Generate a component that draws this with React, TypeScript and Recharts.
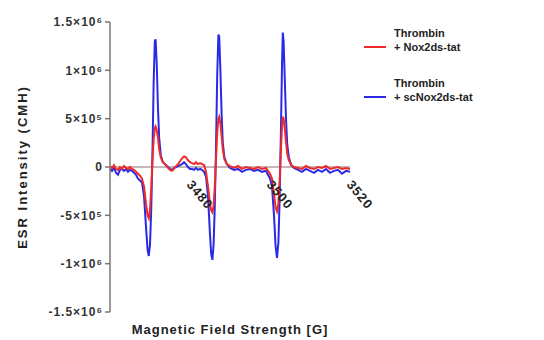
import { LineChart, Line, XAxis, YAxis, ReferenceLine } from 'recharts';

// magnetic field (G), sampled more densely around the three lines
const field = [
  3461, 3461.5, 3462, 3462.5, 3463, 3463.5, 3464, 3464.5, 3465, 3465.5, 3466, 3466.5, 3467, 3467.5, 3468, 3468.5,
  3469, 3469.5, 3470, 3470.4, 3470.7, 3471, 3471.3, 3471.6, 3471.9, 3472.2, 3472.4, 3472.7, 3473, 3473.3, 3473.7,
  3474.2, 3475, 3475.5, 3476, 3476.5, 3477, 3477.5, 3478, 3478.5, 3479, 3479.5, 3480, 3480.5, 3481, 3481.5, 3482,
  3482.5, 3483, 3483.5, 3484, 3484.5, 3485, 3485.5, 3486, 3486.3, 3486.6, 3486.9, 3487.2, 3487.5, 3487.8, 3488.1,
  3488.3, 3488.6, 3488.9, 3489.2, 3489.6, 3490.2, 3491, 3492, 3493, 3494, 3495, 3496, 3497, 3498, 3499, 3500,
  3500.5, 3501, 3501.5, 3502, 3502.4, 3502.75, 3503.1, 3503.4, 3503.7, 3504, 3504.2, 3504.4, 3504.7, 3505, 3505.3,
  3505.7, 3506.3, 3507, 3508, 3509, 3510, 3511, 3512, 3513, 3514, 3515, 3516, 3517, 3518, 3519, 3520, 3521,
];

const scNox2ds = [
  -0.02e6, -0.04e6, -0.01e6, -0.06e6, -0.08e6, -0.03e6, -0.02e6, -0.04e6, -0.02e6, -0.05e6, -0.03e6, -0.04e6, -0.06e6, -0.08e6, -0.12e6, -0.14e6,
  -0.16e6, -0.3e6, -0.62e6, -0.86e6, -0.92e6, -0.8e6, -0.45e6, 0.1e6, 0.85e6, 1.3e6, 1.32e6, 1.05e6, 0.6e6, 0.3e6, 0.12e6,
  0.05e6, 0.02e6, 0, -0.02e6, -0.03e6, -0.01e6, 0, 0.01e6, 0.02e6, 0.03e6, 0.05e6, 0.03e6, 0, -0.02e6, -0.02e6, -0.03e6,
  -0.01e6, -0.03e6, -0.02e6, -0.03e6, -0.05e6, -0.1e6, -0.3e6, -0.7e6, -0.9e6, -0.96e6, -0.8e6, -0.4e6, 0.2e6, 0.95e6, 1.37e6,
  1.35e6, 1.0e6, 0.55e6, 0.25e6, 0.1e6, 0.03e6, -0.01e6, -0.03e6, -0.02e6, -0.05e6, -0.03e6, -0.02e6, -0.04e6, -0.03e6, -0.05e6, -0.04e6,
  -0.08e6, -0.12e6, -0.2e6, -0.5e6, -0.82e6, -0.94e6, -0.78e6, -0.35e6, 0.3e6, 1.05e6, 1.39e6, 1.3e6, 0.9e6, 0.5e6, 0.24e6,
  0.1e6, 0.02e6, -0.01e6, -0.03e6, -0.05e6, -0.02e6, -0.04e6, -0.06e6, -0.03e6, -0.05e6, -0.02e6, -0.06e6, -0.04e6, -0.03e6, -0.07e6, -0.04e6, -0.05e6,
];

const nox2ds = [
  0.01e6, -0.01e6, 0.02e6, -0.02e6, -0.03e6, 0, -0.02e6, 0.01e6, -0.01e6, -0.02e6, 0, -0.02e6, -0.03e6, -0.05e6, -0.07e6, -0.09e6,
  -0.12e6, -0.2e6, -0.38e6, -0.5e6, -0.53e6, -0.45e6, -0.22e6, 0.05e6, 0.28e6, 0.4e6, 0.42e6, 0.38e6, 0.3e6, 0.18e6, 0.1e6,
  0.05e6, 0.02e6, -0.01e6, -0.03e6, -0.04e6, -0.02e6, 0.01e6, 0.03e6, 0.06e6, 0.09e6, 0.11e6, 0.1e6, 0.07e6, 0.05e6, 0.04e6, 0.03e6,
  0.05e6, 0.03e6, 0.04e6, 0.03e6, 0.02e6, -0.05e6, -0.2e6, -0.38e6, -0.45e6, -0.47e6, -0.4e6, -0.2e6, 0.08e6, 0.35e6, 0.5e6,
  0.52e6, 0.45e6, 0.32e6, 0.18e6, 0.08e6, 0.03e6, 0.01e6, -0.01e6, 0.01e6, -0.02e6, 0, -0.01e6, -0.02e6, 0, -0.02e6, -0.01e6,
  -0.04e6, -0.07e6, -0.12e6, -0.28e6, -0.42e6, -0.46e6, -0.38e6, -0.15e6, 0.15e6, 0.42e6, 0.52e6, 0.5e6, 0.4e6, 0.26e6, 0.14e6,
  0.07e6, 0.02e6, 0, -0.01e6, -0.02e6, 0.01e6, -0.01e6, -0.02e6, 0, -0.01e6, 0.01e6, -0.02e6, -0.01e6, 0, -0.02e6, -0.01e6, -0.02e6,
];

const yTicks = [1.5e6, 1e6, 5e5, 0, -5e5, -1e6, -1.5e6];
const yTickLabels = ['1.5×10⁶', '1×10⁶', '5×10⁵', '0', '-5×10⁵', '-1×10⁶', '-1.5×10⁶'];
const xTicks = [3480, 3500, 3520];

const data = field.map((g, i) => ({ g, red: nox2ds[i], blue: scNox2ds[i] }));

const RED = '#ee2a2a';
const BLUE = '#2a2ae6';
const FONT = 'Arial, "Liberation Sans", sans-serif';

// plot box in page pixels
const TOP = 22;
const BOTTOM = 28;
const H = 340;
const ZERO_Y = TOP + (H - TOP - BOTTOM) / 2;

function FieldTick(props: any) {
  const { x, payload } = props;
  const ty = ZERO_Y + 18;
  return (
    <text
      x={x}
      y={ty}
      transform={`rotate(50, ${x}, ${ty})`}
      fontSize={13}
      letterSpacing={1}
      fontWeight="bold"
      fontFamily={FONT}
      fill="#222"
      textAnchor="start"
    >
      {payload.value}
    </text>
  );
}

function LegendBox() {
  const row = (color: string, a: string, b: string, top: number) => (
    <div style={{ position: 'absolute', left: 0, top, display: 'flex', alignItems: 'flex-end', whiteSpace: 'nowrap' }}>
      <div style={{ width: 22, height: 2, background: color, marginBottom: 6, marginRight: 8 }} />
      <div style={{ lineHeight: '14px' }}>
        <div>{a}</div>
        <div>{b}</div>
      </div>
    </div>
  );
  return (
    <div style={{ position: 'absolute', left: 364, top: 26, width: 180, fontFamily: FONT, fontSize: 11, fontWeight: 'bold', color: '#222' }}>
      {row(RED, 'Thrombin', '+ Nox2ds-tat', 0)}
      {row(BLUE, 'Thrombin', '+ scNox2ds-tat', 50)}
    </div>
  );
}

export default function App() {
  return (
    <div style={{ position: 'absolute', left: 0, top: 0, width: 544, height: 340, background: '#fff' }}>
      <LineChart width={544} height={H} data={data} margin={{ top: TOP, right: 194, bottom: 0, left: 0 }}>
        <XAxis
          dataKey="g"
          type="number"
          domain={[3461, 3521]}
          ticks={xTicks}
          axisLine={false}
          tickLine={false}
          height={BOTTOM}
          tick={<FieldTick />}
          label={{
            value: 'Magnetic Field Strength [G]',
            position: 'insideBottom',
            offset: 6,
            style: { fontSize: 13, letterSpacing: 1, fontWeight: 'bold', fontFamily: FONT, fill: '#222' },
          }}
        />
        <YAxis
          type="number"
          domain={[-1.5e6, 1.5e6]}
          ticks={yTicks}
          width={110}
          stroke="#777"
          strokeWidth={1.5}
          tickSize={5}
          tickFormatter={(v: number) => yTickLabels[yTicks.indexOf(v)]}
          tick={{ fontSize: 12, letterSpacing: 1, fontWeight: 'bold', fill: '#333', fontFamily: FONT }}
          label={{
            value: 'ESR Intensity (CMH)',
            angle: -90,
            position: 'insideLeft',
            offset: 22,
            style: { textAnchor: 'middle', fontSize: 13, letterSpacing: 2, fontWeight: 'bold', fontFamily: FONT, fill: '#222' },
          }}
        />
        <ReferenceLine y={0} stroke="#8a7070" strokeWidth={1} />
        <Line type="linear" dataKey="blue" stroke={BLUE} strokeWidth={2} dot={false} isAnimationActive={false} />
        <Line type="linear" dataKey="red" stroke={RED} strokeWidth={2} dot={false} isAnimationActive={false} />
      </LineChart>
      <LegendBox />
    </div>
  );
}
